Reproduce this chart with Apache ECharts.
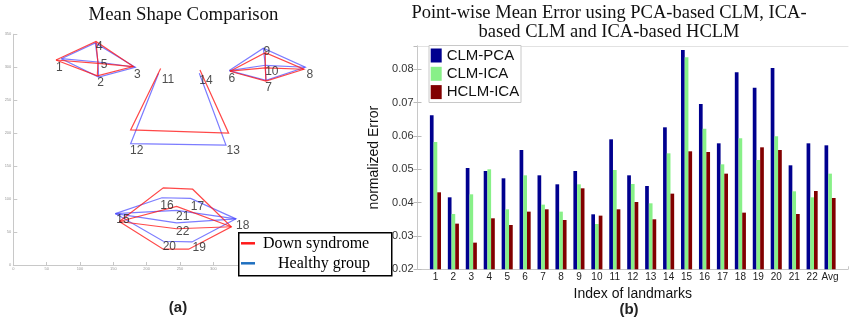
<!DOCTYPE html>
<html><head><meta charset="utf-8">
<script src="https://cdn.jsdelivr.net/npm/echarts@6/dist/echarts.min.js"></script>
<style>html,body{margin:0;padding:0;background:#fff}#c{width:851px;height:320px}</style>
</head><body><div id="c"></div>
<script>
// ---------- Panel (b): point-wise mean error ----------
const categories = ['1','2','3','4','5','6','7','8','9','10','11','12','13','14','15','16','17','18','19','20','21','22','Avg'];
const clmPca  = [0.0662,0.0416,0.0504,0.0495,0.0473,0.0558,0.0482,0.0455,0.0495,0.0365,0.0590,0.0482,0.0450,0.0626,0.0858,0.0696,0.0578,0.0791,0.0745,0.0804,0.0512,0.0578,0.0572];
const clmIca  = [0.0582,0.0366,0.0425,0.0500,0.0380,0.0482,0.0394,0.0373,0.0455,0.0336,0.0498,0.0456,0.0398,0.0548,0.0836,0.0622,0.0515,0.0593,0.0528,0.0599,0.0434,0.0416,0.0487];
const hclmIca = [0.0431,0.0337,0.0280,0.0353,0.0333,0.0373,0.0380,0.0348,0.0443,0.0361,0.0380,0.0402,0.0350,0.0427,0.0554,0.0552,0.0487,0.0370,0.0566,0.0558,0.0366,0.0435,0.0414];
const errorTicks = [0.02,0.03,0.04,0.05,0.06,0.07,0.08];

// ---------- Panel (a): mean shapes (landmarks 1..22) ----------
const landmarkIds = ['1','2','3','4','5','6','7','8','9','10','11','12','13','14','15','16','17','18','19','20','21','22'];
const downX    = [64,126,180,124,127,325,379,436,378,378,221,176,323,280,159,225,269,327,263,225,245,245];
const downY    = [311,287,301,339,306,294,279,297,322,299,298,205,200,296,66,117,115,58,24,24,89,55];
const healthyX = [72,128,183,123,127,324,379,438,375,378,218,176,319,279,153,223,266,334,268,225,245,245];
const healthyY = [313,285,300,337,308,295,280,300,329,303,291,184,182,291,78,102,101,70,35,36,83,64];
const shapeXTicks = [0,50,100,150,200,250,300,350,400,450];
const shapeYTicks = [0,50,100,150,200,250,300,350];
// polylines through landmark numbers
const shapeEdges = [[1,4,3,2,1],[1,5,3],[4,5,2],[6,9,8,7,6],[6,10,8],[9,10,7],[11,12,13,14],[15,16,17,18,19,20,15],[15,21,18],[15,22,18]];
// label offsets (pixels) from the healthy landmark
const labelOffsets = [[-2,9],[2,6],[2,7],[4,4],[6,3],[2.5,8],[2.5,7],[4.5,7.5],[3.5,4],[6.5,6.5],[9.4,6.7],[6,7],[7.3,6],[6.7,7.4],[7.7,6.5],[5,7.5],[6.8,7.8],[6.7,7],[7.3,5.5],[6,5.2],[6,6.7],[6,8.7]];

function polylines(xs, ys) {
  return shapeEdges.map(path => ({coords: path.map(k => [xs[k-1], ys[k-1]])}));
}

const chart = echarts.init(document.getElementById('c'), null, {renderer:'canvas'});
const serif = 'Liberation Serif, Times New Roman, serif';
const sans = 'Liberation Sans, Arial, sans-serif';

const option = {
  animation: false,
  backgroundColor: '#fff',
  title: [
    {text:'Mean Shape Comparison', left:183.5, top:5.5, textAlign:'center', padding:0,
     textStyle:{fontFamily:serif, fontSize:18.8, fontWeight:'normal', color:'#111'}},
    {text:'Point-wise Mean Error using PCA-based CLM, ICA-\nbased CLM and ICA-based HCLM', left:609, top:4, textAlign:'center', padding:0,
     textStyle:{fontFamily:serif, fontSize:18.5, fontWeight:'normal', color:'#111', lineHeight:19}},
    {text:'(a)', left:178, top:300, textAlign:'center', padding:0,
     textStyle:{fontFamily:sans, fontSize:15, fontWeight:'bold', color:'#222'}},
    {text:'(b)', left:629, top:302, textAlign:'center', padding:0,
     textStyle:{fontFamily:sans, fontSize:15, fontWeight:'bold', color:'#222'}}
  ],
  graphic: [
    {type:'rect', left:238, top:232, z:10, shape:{width:153, height:43}, style:{fill:'#fff', stroke:'#000', lineWidth:1.5}},
    {type:'rect', left:428.5, top:45, z:10, shape:{width:92, height:57}, style:{fill:'#fff', stroke:'#c8c8c8', lineWidth:1}}
  ],
  legend: [
    {z:20, orient:'vertical', left:241, top:234.3, padding:0, itemWidth:14, itemHeight:2.5, itemGap:2,
     selectedMode:false,
     data:[{name:'Down syndrome', icon:'rect', itemStyle:{color:'#ff1a1a', borderWidth:0}},
           {name:'Healthy group', icon:'rect', itemStyle:{color:'#1f6fbf', borderWidth:0}}],
     formatter: n => n === 'Healthy group' ? '{b|' + n + '}' : '{a|' + n + '}',
     textStyle:{fontFamily:serif, fontSize:16, color:'#000', lineHeight:18,
       rich:{a:{fontFamily:serif, fontSize:16, color:'#000', padding:[0,0,0,3]},
             b:{fontFamily:serif, fontSize:16, color:'#000', padding:[0,0,0,18]}}}},
    {z:20, orient:'vertical', left:430.7, top:47.5, padding:0, itemWidth:11, itemHeight:14, itemGap:2.3,
     selectedMode:false, icon:'rect',
     data:['CLM-PCA','CLM-ICA','HCLM-ICA'],
     textStyle:{fontFamily:sans, fontSize:15, color:'#111', lineHeight:16}}
  ],
  grid: [
    {left:13.3, top:34.3, width:300, height:230.7},
    {left:417.5, top:46, right:2, bottom:50.7}
  ],
  xAxis: [
    {gridIndex:0, type:'value', min:shapeXTicks[0], max:shapeXTicks[shapeXTicks.length-1], interval:50,
     axisLine:{lineStyle:{color:'#c8c8c8'}}, axisTick:{inside:true, length:3, lineStyle:{color:'#c8c8c8'}},
     axisLabel:{fontSize:4, color:'#999', margin:2}, splitLine:{show:false}},
    {gridIndex:1, type:'value', min:0, max:24, interval:1,
     axisLine:{lineStyle:{color:'#c8c8c8'}}, axisTick:{inside:true, length:3, lineStyle:{color:'#c8c8c8'}},
     axisLabel:{fontFamily:sans, fontSize:10, color:'#222', margin:3,
       formatter: v => (v >= 1 && v <= categories.length) ? categories[v-1] : ''},
     splitLine:{show:false},
     name:'Index of landmarks', nameLocation:'middle', nameGap:13,
     nameTextStyle:{fontFamily:sans, fontSize:14, color:'#111'}},
    {gridIndex:1, type:'value', position:'top', min:0, max:24, interval:1,
     axisLine:{lineStyle:{color:'#e2e2e2'}}, axisTick:{show:false}, axisLabel:{show:false}, splitLine:{show:false}}
  ],
  yAxis: [
    {gridIndex:0, type:'value', min:shapeYTicks[0], max:shapeYTicks[shapeYTicks.length-1], interval:50,
     axisLine:{show:true, lineStyle:{color:'#c8c8c8'}}, axisTick:{show:true, inside:true, length:4, lineStyle:{color:'#c8c8c8'}},
     axisLabel:{fontSize:4, color:'#999', margin:2}, splitLine:{show:false}},
    {gridIndex:1, type:'value', min:errorTicks[0], max:0.087, interval:0.01,
     axisLine:{show:true, lineStyle:{color:'#c8c8c8'}}, axisTick:{show:true, inside:true, length:4, lineStyle:{color:'#bbb'}},
     axisLabel:{fontFamily:sans, fontSize:11, color:'#333', margin:4, showMaxLabel:false,
       formatter: v => errorTicks.some(t => Math.abs(t - v) < 1e-6) ? v.toFixed(2) : ''},
     splitLine:{show:false},
     name:'normalized Error', nameLocation:'middle', nameGap:28,
     nameTextStyle:{fontFamily:sans, fontSize:14, color:'#111'}},
    {gridIndex:1, type:'value', position:'right', min:errorTicks[0], max:0.087, interval:0.01,
     axisLine:{show:true, lineStyle:{color:'#c8c8c8'}}, axisTick:{show:true, inside:true, length:4, lineStyle:{color:'#bbb'}},
     axisLabel:{show:false}, splitLine:{show:false}}
  ],
  series: [
    {name:'Healthy group', type:'lines', coordinateSystem:'cartesian2d', xAxisIndex:0, yAxisIndex:0,
     polyline:true, silent:true, z:2,
     lineStyle:{color:'#5050ff', width:1.2, opacity:0.75},
     data: polylines(healthyX, healthyY)},
    {name:'Down syndrome', type:'lines', coordinateSystem:'cartesian2d', xAxisIndex:0, yAxisIndex:0,
     polyline:true, silent:true, z:3,
     lineStyle:{color:'#ff1a1a', width:1.2, opacity:0.8},
     data: polylines(downX, downY)},
    {name:'labels', type:'scatter', xAxisIndex:0, yAxisIndex:0, symbolSize:1, z:4, silent:true,
     itemStyle:{color:'transparent'},
     label:{show:true, position:'inside', fontFamily:sans, fontSize:12, color:'#222', formatter: p => p.data.id},
     data: landmarkIds.map((id, i) => ({id: id, value:[healthyX[i], healthyY[i]], label:{offset: labelOffsets[i]}}))},
    {name:'CLM-PCA', type:'bar', xAxisIndex:1, yAxisIndex:1, barWidth:3.7, barGap:'0%',
     itemStyle:{color:'#00008f'}, data: clmPca.map((v, i) => [i+1, v])},
    {name:'CLM-ICA', type:'bar', xAxisIndex:1, yAxisIndex:1, barWidth:3.7, barGap:'0%',
     itemStyle:{color:'#88f088'}, data: clmIca.map((v, i) => [i+1, v])},
    {name:'HCLM-ICA', type:'bar', xAxisIndex:1, yAxisIndex:1, barWidth:3.7, barGap:'0%',
     itemStyle:{color:'#820000'}, data: hclmIca.map((v, i) => [i+1, v])}
  ]
};
chart.setOption(option);
</script>
</body></html>
